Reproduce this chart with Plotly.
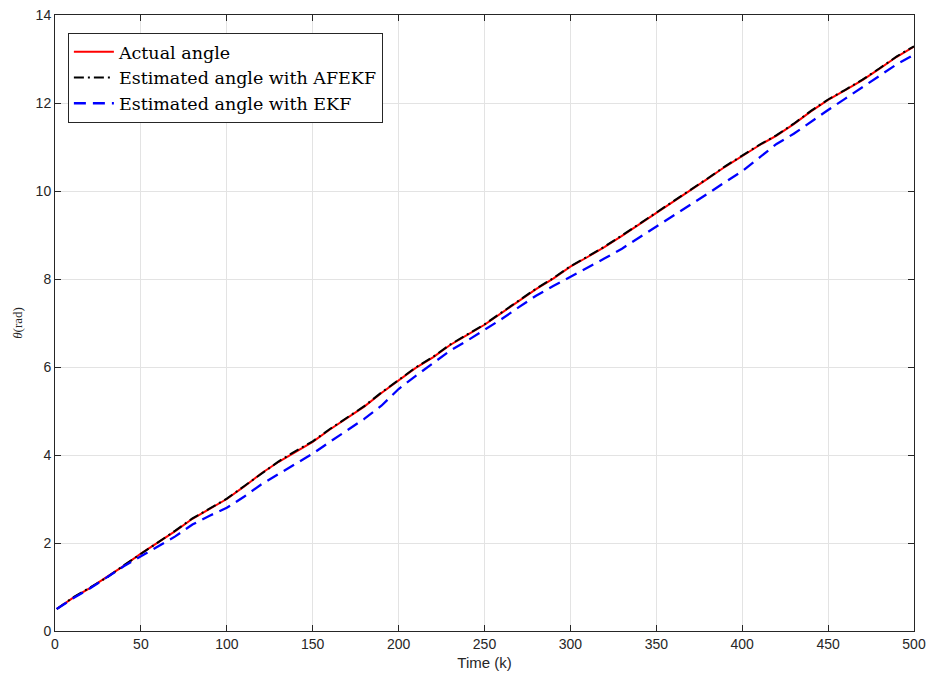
import plotly.graph_objects as go

k = [1, 10, 20, 30, 40, 50, 60, 70, 80, 90, 100, 110, 120, 130, 140, 150, 160, 170, 180, 190,
     200, 210, 220, 230, 240, 250, 260, 270, 280, 290, 300, 310, 320, 330, 340, 350, 360, 370,
     380, 390, 400, 410, 420, 430, 440, 450, 460, 470, 480, 490, 500]

actual = [0.50, 0.74, 0.97, 1.22, 1.48, 1.76, 2.01, 2.27, 2.55, 2.78, 3.00, 3.28, 3.58, 3.84,
          4.08, 4.30, 4.58, 4.83, 5.10, 5.41, 5.70, 5.98, 6.22, 6.50, 6.73, 6.96, 7.23, 7.50,
          7.77, 8.01, 8.28, 8.50, 8.73, 8.98, 9.24, 9.49, 9.76, 10.00, 10.28, 10.55, 10.80,
          11.04, 11.26, 11.52, 11.81, 12.07, 12.29, 12.52, 12.78, 13.05, 13.28]

afekf = [0.50, 0.75, 0.98, 1.21, 1.49, 1.75, 2.02, 2.28, 2.56, 2.79, 3.01, 3.29, 3.57, 3.85,
         4.09, 4.31, 4.59, 4.84, 5.11, 5.42, 5.71, 5.99, 6.23, 6.51, 6.74, 6.97, 7.24, 7.51,
         7.78, 8.02, 8.29, 8.51, 8.74, 8.99, 9.25, 9.50, 9.77, 10.01, 10.29, 10.56, 10.81,
         11.05, 11.27, 11.53, 11.82, 12.08, 12.30, 12.53, 12.79, 13.06, 13.29]

ekf = [0.50, 0.73, 0.96, 1.22, 1.47, 1.70, 1.93, 2.15, 2.42, 2.62, 2.80, 3.05, 3.33, 3.56,
       3.79, 4.03, 4.30, 4.56, 4.82, 5.12, 5.50, 5.80, 6.08, 6.37, 6.60, 6.84, 7.09, 7.36,
       7.62, 7.84, 8.05, 8.25, 8.47, 8.69, 8.94, 9.18, 9.42, 9.67, 9.94, 10.20, 10.45,
       10.76, 11.07, 11.30, 11.58, 11.84, 12.10, 12.36, 12.62, 12.88, 13.10]

x_ticks = [0, 50, 100, 150, 200, 250, 300, 350, 400, 450, 500]
y_ticks = [0, 2, 4, 6, 8, 10, 12, 14]

fig = go.Figure()
fig.add_trace(go.Scatter(x=k, y=actual, mode="lines", name="Actual angle",
                         line=dict(color="#ff0000", width=2)))
fig.add_trace(go.Scatter(x=k, y=afekf, mode="lines", name="Estimated angle with AFEKF",
                         line=dict(color="#000000", width=2, dash="10px,4px,2px,4px")))
fig.add_trace(go.Scatter(x=k, y=ekf, mode="lines", name="Estimated angle with EKF",
                         line=dict(color="#0000ff", width=2.3, dash="12px,7px")))

axis_common = dict(
    showline=True, linecolor="#262626", linewidth=1, mirror="ticks",
    ticks="inside", ticklen=6, tickcolor="#262626", automargin=False,
    showgrid=True, gridcolor="#e3e3e3", gridwidth=1, zeroline=False,
    tickfont=dict(family="Liberation Sans, Arial, sans-serif", size=14, color="#262626"),
)

fig.update_xaxes(range=[0, 500], tickvals=x_ticks,
                 title=dict(text="Time (k)", standoff=6,
                            font=dict(family="Liberation Sans, Arial, sans-serif", size=15, color="#262626")),
                 **axis_common)
fig.update_yaxes(range=[0, 14], tickvals=y_ticks,
                 title=dict(text="<i>θ</i>(rad)", standoff=10,
                            font=dict(family="Liberation Serif, serif", size=13, color="#262626")),
                 **axis_common)

fig.update_layout(
    width=932, height=679,
    margin=dict(l=55, r=18, t=15, b=48),
    paper_bgcolor="white", plot_bgcolor="white",
    showlegend=True,
    legend=dict(x=0.015, y=0.971, xanchor="left", yanchor="top",
                bgcolor="white", bordercolor="#262626", borderwidth=1,
                font=dict(family="DejaVu Serif, serif", size=17.5, color="#000000"),
                tracegroupgap=0, itemwidth=40),
)

fig.write_html("out.html")
